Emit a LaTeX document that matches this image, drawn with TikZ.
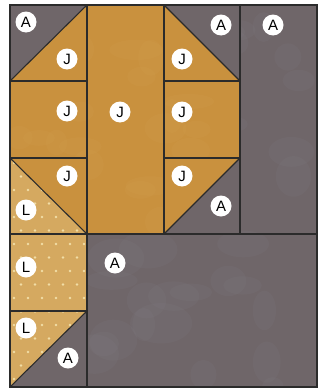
\documentclass[tikz,border=0pt]{standalone}
\usepackage{fontspec}
\setsansfont{Liberation Sans}
\definecolor{gold}{HTML}{C9913E}
\definecolor{goldlt}{HTML}{D6A255}
\definecolor{grayA}{HTML}{6F6669}
\definecolor{grayAlt}{HTML}{858289}
\definecolor{tan}{HTML}{D5A960}
\definecolor{dot}{HTML}{F1DDA6}
\definecolor{seam}{HTML}{2B2B2B}
\tikzset{
  seamline/.style={draw=seam,line width=1.1pt,line join=miter},
  lab/.style={circle,fill=white,inner sep=0pt,minimum size=21pt,
    font=\fontsize{15}{15}\selectfont\sffamily,text=black}
}
\begin{document}
\begin{tikzpicture}[x=1pt,y=-1pt]
\useasboundingbox (0,0) rectangle (336,388);
\fill[white] (0,0) rectangle (336,388);
% grid values
\def\xa{10}\def\xb{87}\def\xc{164}\def\xd{240}\def\xe{317}
\def\ya{5}\def\yb{81}\def\yc{158}\def\yd{234}\def\ye{311}\def\yf{387}
% gray A pieces
\fill[grayA] (\xa,\ya) -- (\xb,\ya) -- (\xa,\yb) -- cycle;
\fill[grayA] (\xc,\ya) -- (\xd,\ya) -- (\xd,\yb) -- cycle;
\fill[grayA] (\xd,\ya) rectangle (\xe,\yd);
\fill[grayA] (\xd,\yc) -- (\xd,\yd) -- (\xc,\yd) -- cycle;
\fill[grayA] (\xb,\ye) -- (\xb,\yf) -- (\xa,\yf) -- cycle;
\fill[grayA] (\xb,\yd) rectangle (\xe,\yf);
% mottling on gray
\begin{scope}
  \clip (\xd,\ya) rectangle (\xe,\yd) (\xb,\yd) rectangle (\xe,\yf);
  \pgfmathsetseed{7}
  \foreach \k in {1,...,40}{
    \pgfmathsetmacro\px{\xb+rnd*(\xe-\xb)}
    \pgfmathsetmacro\py{\ya+rnd*(\yf-\ya)}
    \pgfmathsetmacro\rx{10+rnd*22}
    \pgfmathsetmacro\ry{7+rnd*14}
    \fill[grayAlt,opacity=0.13] (\px,\py) ellipse [x radius=\rx, y radius=\ry];
  }
\end{scope}
% gold J pieces
\fill[gold] (\xb,\ya) -- (\xb,\yb) -- (\xa,\yb) -- cycle;
\fill[gold] (\xb,\ya) rectangle (\xc,\yd);
\fill[gold] (\xc,\ya) -- (\xd,\yb) -- (\xc,\yb) -- cycle;
\fill[gold] (\xa,\yb) rectangle (\xb,\yc);
\fill[gold] (\xc,\yb) rectangle (\xd,\yc);
\fill[gold] (\xa,\yc) -- (\xb,\yc) -- (\xb,\yd) -- cycle;
\fill[gold] (\xc,\yc) -- (\xd,\yc) -- (\xc,\yd) -- cycle;
\begin{scope}
  \clip (\xb,\ya) rectangle (\xc,\yd) (\xa,\yb) rectangle (\xb,\yc) (\xc,\yb) rectangle (\xd,\yc);
  \pgfmathsetseed{11}
  \foreach \k in {1,...,25}{
    \pgfmathsetmacro\px{\xa+rnd*(\xd-\xa)}
    \pgfmathsetmacro\py{\ya+rnd*(\yd-\ya)}
    \pgfmathsetmacro\rx{10+rnd*18}
    \pgfmathsetmacro\ry{7+rnd*12}
    \fill[goldlt,opacity=0.15] (\px,\py) ellipse [x radius=\rx, y radius=\ry];
  }
\end{scope}
% tan L pieces
\fill[tan] (\xa,\yc) -- (\xb,\yd) -- (\xa,\yd) -- cycle;
\fill[tan] (\xa,\yd) rectangle (\xb,\ye);
\fill[tan] (\xa,\ye) -- (\xb,\ye) -- (\xa,\yf) -- cycle;
\begin{scope}
  \clip (\xa,\yc) -- (\xb,\yd) -- (\xb,\ye) -- (\xa,\yf) -- cycle;
  \foreach \j in {0,...,16}{
    \foreach \i in {0,...,6}{
      \pgfmathsetmacro\px{\xa+4+\i*14+mod(\j,2)*7}
      \pgfmathsetmacro\py{\yc+5+\j*13.5}
      \fill[dot] (\px,\py) circle (1.4);
    }
  }
\end{scope}
% seams
\draw[seamline] (\xa,\ya) rectangle (\xe,\yf);
\draw[seamline] (\xa,\yb) -- (\xb,\ya);
\draw[seamline] (\xc,\ya) -- (\xd,\yb);
\draw[seamline] (\xb,\ya) -- (\xb,\yf);
\draw[seamline] (\xc,\ya) -- (\xc,\yd);
\draw[seamline] (\xd,\ya) -- (\xd,\yd);
\draw[seamline] (\xa,\yb) -- (\xb,\yb);
\draw[seamline] (\xc,\yb) -- (\xd,\yb);
\draw[seamline] (\xa,\yc) -- (\xb,\yc);
\draw[seamline] (\xc,\yc) -- (\xd,\yc);
\draw[seamline] (\xa,\yc) -- (\xb,\yd);
\draw[seamline] (\xc,\yd) -- (\xd,\yc);
\draw[seamline] (\xa,\yd) -- (\xe,\yd);
\draw[seamline] (\xa,\ye) -- (\xb,\ye);
\draw[seamline] (\xa,\yf) -- (\xb,\ye);
% labels
\node[lab] (a1) at (26,22) {A};
\node[lab] (j1) at (67,59) {J};
\node[lab] (j2) at (67,111) {J};
\node[lab] (j3) at (120,112) {J};
\node[lab] (j4) at (67,176) {J};
\node[lab] (l1) at (26,210) {L};
\node[lab] (l2) at (26,267) {L};
\node[lab] (a2) at (115,263) {A};
\node[lab] (l3) at (26,328) {L};
\node[lab] (a3) at (68,358) {A};
\node[lab] (a4) at (221,25) {A};
\node[lab] (a5) at (273,25) {A};
\node[lab] (j5) at (182,59) {J};
\node[lab] (j6) at (182,112) {J};
\node[lab] (j7) at (182,176) {J};
\node[lab] (a6) at (221,206) {A};
\end{tikzpicture}
\end{document}
